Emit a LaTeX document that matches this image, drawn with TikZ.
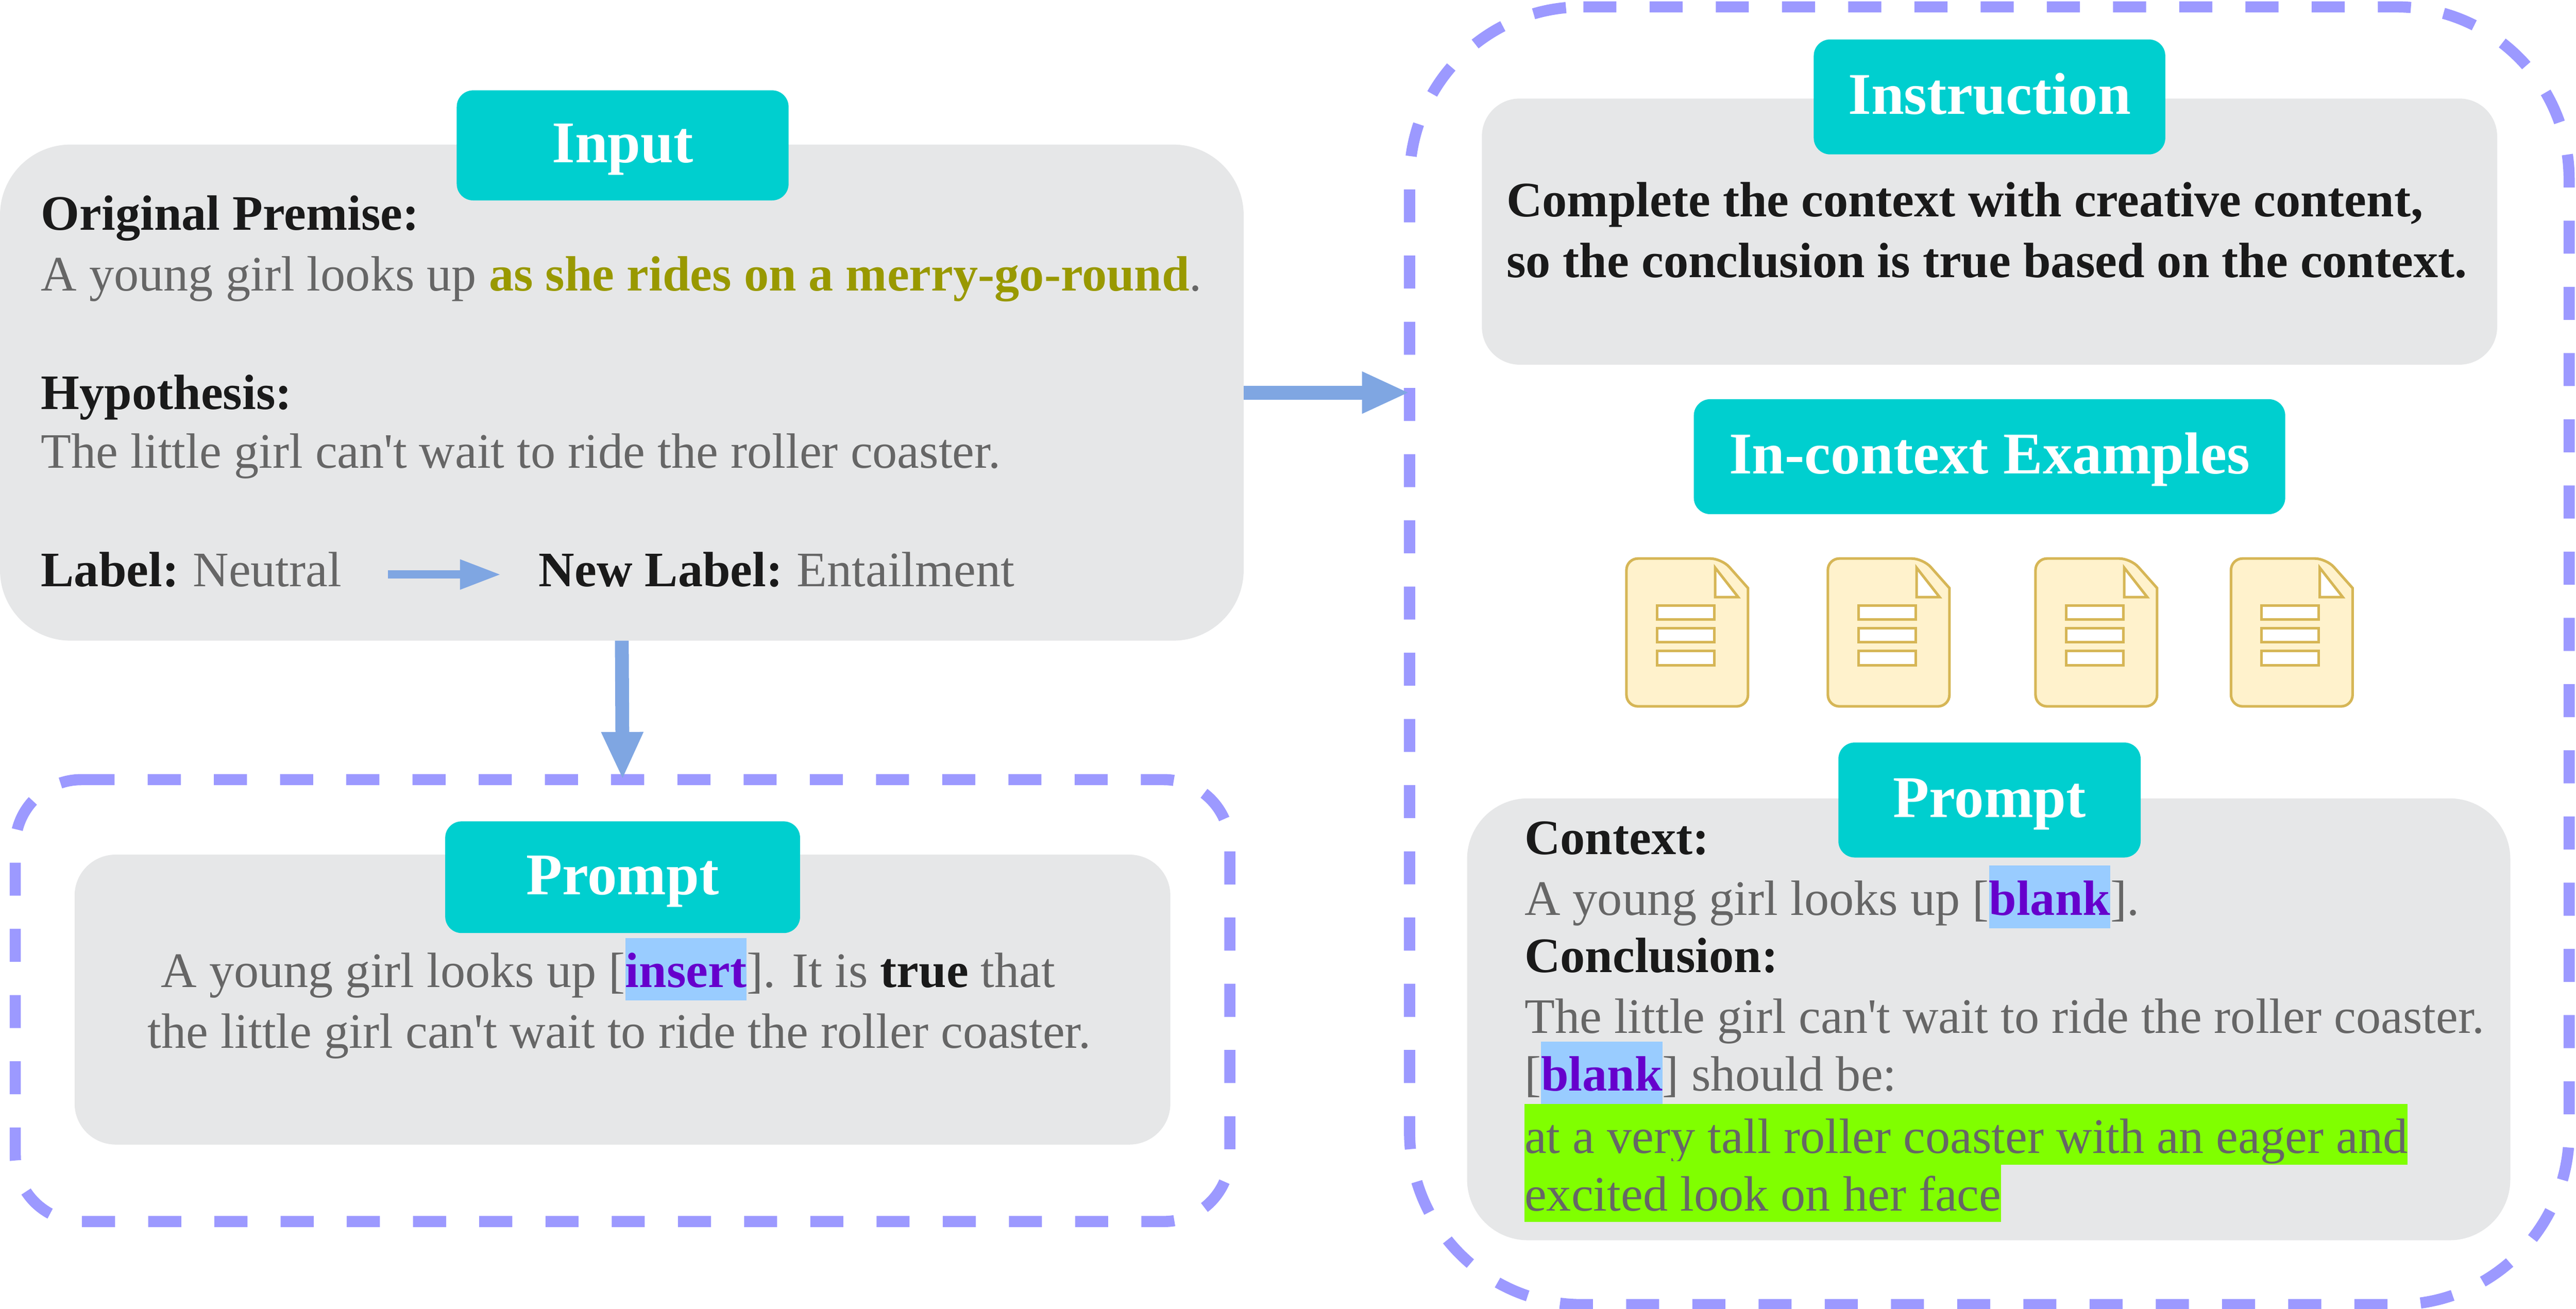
\documentclass[tikz,border=0pt]{standalone}
\usepackage{fontspec}
\usepackage{xcolor}
\usepackage{tikz}
\usetikzlibrary{arrows.meta}
\setmainfont{Liberation Serif}
\definecolor{panelgray}{HTML}{E6E7E8}
\definecolor{tagteal}{HTML}{00CFCF}
\definecolor{dashviolet}{HTML}{9C99FF}
\definecolor{arrowblue}{HTML}{7FA6E2}
\definecolor{inktext}{HTML}{1A1A1A}
\definecolor{softtext}{HTML}{666666}
\definecolor{olivetext}{HTML}{999900}
\definecolor{slotpurple}{HTML}{6600CC}
\definecolor{slotblue}{HTML}{99CCFF}
\definecolor{fillgreen}{HTML}{80FF00}
\definecolor{docfill}{HTML}{FFF2CC}
\definecolor{docline}{HTML}{D6B656}
\setlength{\fboxsep}{0pt}
\newcommand{\slotword}[1]{\colorbox{slotblue}{\rule[-8pt]{0pt}{38pt}\textcolor{slotpurple}{\textbf{#1}}}}
\newcommand{\greenword}[1]{\colorbox{fillgreen}{\rule[-7pt]{0pt}{37pt}#1}}
\newcommand{\hd}[1]{\textcolor{inktext}{\textbf{#1}}}

\begin{document}
\begin{tikzpicture}[x=1pt,y=-1pt,
	panel/.style={fill=panelgray, rounded corners=#1, inner sep=0, outer sep=0},
	tagbox/.style={fill=tagteal, rounded corners=10pt, inner sep=0, outer sep=0, text=white, text height=24pt, text depth=3pt, font=\fontsize{36}{40}\selectfont\bfseries},
	frameanchor/.style={inner sep=0, outer sep=0},
	dashframe/.style={draw=dashviolet, line width=6.8pt, dash pattern=on 20.1pt off 20.2pt, rounded corners=#1},
	line/.style={anchor=base west, inner sep=0, outer sep=0, text=softtext, font=\fontsize{30.2}{36}\selectfont},
	flow/.style={draw=arrowblue, line width=8.4pt, -{Triangle[length=29pt,width=23.5pt]}},
	flowsmall/.style={draw=arrowblue, line width=5pt, -{Triangle[length=25pt,width=17pt]}},
	docicon/.style={draw=docline, fill=docfill, line width=1.6pt},
	docbar/.style={draw=docline, fill=white, line width=1.6pt}]
	\useasboundingbox (0,0) rectangle (1568,796.6);

	% dashed frames
	\node[frameanchor, minimum width=739.3pt, minimum height=269pt] at (378.95,609.1) (promptframe){};
	\node[frameanchor, minimum width=705.8pt, minimum height=790pt] at (1210.9,399.2) (contextframe){};
	\draw[dashframe=40.3pt] ([xshift=40.3pt]promptframe.north west) -- (promptframe.north east) -- (promptframe.south east) -- (promptframe.south west) -- (promptframe.north west) -- ([xshift=40.3pt]promptframe.north west);
	\draw[dashframe=105pt] ([xshift=105.8pt]contextframe.north west) -- (contextframe.north east) -- (contextframe.south east) -- (contextframe.south west) -- (contextframe.north west) -- ([xshift=105.8pt]contextframe.north west);

	% gray panels
	\node[panel=43pt, minimum width=757pt, minimum height=302pt] at (378.5,239) (inputpanel){};
	\node[panel=25pt, minimum width=667pt, minimum height=176.5pt] at (378.9,608.5) (promptpanel){};
	\node[panel=23pt, minimum width=618pt, minimum height=162pt] at (1211,141) (instrpanel){};
	\node[panel=37pt, minimum width=635pt, minimum height=269pt] at (1210.5,620.5) (contextpanel){};

	% tags
	\node[tagbox, minimum width=202pt, minimum height=67pt] at (379,88.5) (inputtag){Input};
	\node[tagbox, minimum width=216pt, minimum height=68pt] at (379,534) (prompttag){Prompt};
	\node[tagbox, minimum width=214pt, minimum height=70pt] at (1211,59) (instrtag){Instruction};
	\node[tagbox, minimum width=360pt, minimum height=70pt] at (1211,278) (exampletag){In-context Examples};
	\node[tagbox, minimum width=184pt, minimum height=70pt] at (1211,487) (contexttag){Prompt};

	% input panel text
	\node[line] at (25,140) (premisehead){\hd{Original Premise:}};
	\node[line] at (25,177) (premiseline){A young girl looks up \textcolor{olivetext}{\textbf{as she rides on a merry-go-round}}.};
	\node[line] at (25,249) (hypohead){\hd{Hypothesis:}};
	\node[line] at (25,285) (hypoline){The little girl can\textquotesingle t wait to ride the roller coaster.};
	\node[line] at (25,357) (oldlabel){\hd{Label:}\hspace{-1.5pt} Neutral};
	\node[line] at (328,357) (newlabel){\hd{New Label:}\hspace{-1.5pt} Entailment};

	% left prompt text
	\node[line] at (98,601) (promptone){A young girl looks up [\slotword{insert}]. It is \hd{true} that};
	\node[line] at (90,638) (prompttwo){the little girl can\textquotesingle t wait to ride the roller coaster.};

	% instruction text
	\node[line, text=inktext] at (917,132) (instrone){\textbf{Complete the context with creative content,}};
	\node[line, text=inktext] at (917,169) (instrtwo){\textbf{so the conclusion is true based on the context.}};

	% doc icons
	\foreach \docx in {990,1112.6,1239,1358}{
		\begin{scope}[shift={(\docx,340)}]
			\draw[docicon] (58,0) -- (74,18) [rounded corners=7pt] -- (74,90) -- (0,90) -- (0,0) -- cycle;
			\draw[docbar] (54,5.6) -- (54,23.5) -- (68,23.5) -- cycle;
			\foreach \bary in {28.5,42.3,56.3}
				\draw[docbar] (18.6,\bary) rectangle (53.4,\bary+8.7);
		\end{scope}
	}

	% right prompt text
	\node[line] at (928,520) (contexthead){\hd{Context:}};
	\node[line] at (928,557) (contextline){A young girl looks up [\slotword{blank}].};
	\node[line] at (928,592) (conchead){\hd{Conclusion:}};
	\node[line] at (928,629) (concline){The little girl can\textquotesingle t wait to ride the roller coaster.};
	\node[line] at (928,664) (blankline){[\slotword{blank}] should be:};
	\node[line] at (928,702) (greenone){\greenword{at a very tall roller coaster with an eager and}};
	\node[line] at (928,737) (greentwo){\greenword{excited look on her face}};

	% arrows
	\draw[flow] (inputpanel.south) -- (promptframe.north);
	\draw[flow] (inputpanel.east) -- (inputpanel.east -| contextframe.west);
	\draw[flowsmall] ([xshift=28pt,yshift=-3pt]oldlabel.east) -- ([xshift=-23pt,yshift=-3pt]newlabel.west);
\end{tikzpicture}
\end{document}
